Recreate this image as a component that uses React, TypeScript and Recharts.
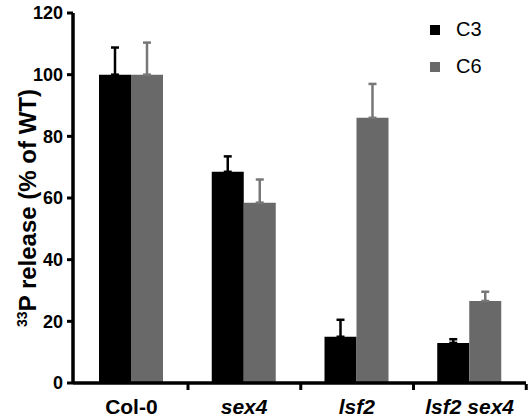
import React from 'react';
import { BarChart, Bar, XAxis, YAxis, ErrorBar, Legend } from 'recharts';

const categories = ['Col-0', 'sex4', 'lsf2', 'lsf2 sex4'];
const italicCategories = [false, true, true, true];
const c3Values = [100, 68.5, 15, 13];
const c3Errors = [8.8, 5, 5.5, 1.2];
const c6Values = [100, 58.5, 86, 26.6];
const c6Errors = [10.4, 7.5, 11, 3];
const yTicks = [0, 20, 40, 60, 80, 100, 120];

const C3_COLOR = '#000000';
const C6_COLOR = '#696969';

const data = categories.map((name, i) => ({
  name,
  italic: italicCategories[i],
  c3: c3Values[i],
  c3Err: [0, c3Errors[i]],
  c6: c6Values[i],
  c6Err: [0, c6Errors[i]],
}));

const FONT = 'Arial, "Liberation Sans", sans-serif';

function XTick(props: any) {
  const { payload, index, width } = props;
  const x = Number(props.x);
  const y = Number(props.y);
  const italic = data[index] ? data[index].italic : false;
  const w = Number(width);
  const half = (w > 0 && w < 1000 ? w : 451) / categories.length / 2;
  const lx = x + half;
  return (
    <g>
      <rect x={lx - 1.5} y={y - 7} width={3} height={6} fill="#000" />
      <text
        x={x}
        y={y + 23}
        textAnchor="middle"
        fontFamily={FONT}
        fontWeight="bold"
        fontStyle={italic ? 'italic' : 'normal'}
        fontSize={21}
        fill="#000"
      >
        {payload.value}
      </text>
    </g>
  );
}

const YLabel = () => (
  <text
    x={36}
    y={208}
    transform="rotate(-90 36 208)"
    textAnchor="middle"
    fontFamily={FONT}
    fontWeight="bold"
    fontSize={24}
    fill="#000"
  >
    <tspan fontSize={14} dy={-9}>33</tspan>
    <tspan dy={9}>P release (% of WT)</tspan>
  </text>
);

const LegendContent = (props: any) => {
  const { payload } = props;
  return (
    <div style={{ fontFamily: FONT }}>
      {(payload || []).map((p: any, i: number) => (
        <div key={i} style={{ display: 'flex', alignItems: 'center', height: 37 }}>
          <div style={{ width: 10, height: 10, background: p.color, marginRight: 16 }} />
          <span style={{ fontSize: 20, color: '#000' }}>{p.value}</span>
        </div>
      ))}
    </div>
  );
};

export default function App() {
  return (
    <div style={{ position: 'absolute', left: 0, top: 0, background: '#fff' }}>
      <BarChart
        width={531}
        height={418}
        data={data}
        margin={{ top: 13, right: 5, left: 0, bottom: 0 }}
        barGap={0}
        barCategoryGap="22%"
      >
        <XAxis
          dataKey="name"
          height={35}
          padding={{ left: 2, right: 0 }}
          axisLine={{ stroke: '#000', strokeWidth: 3.5 }}
          tickLine={false}
          tickSize={6}
          tickMargin={2}
          tick={(p: any) => <XTick {...p} />}
          interval={0}
        />
        <YAxis
          width={73}
          domain={[0, 120]}
          ticks={yTicks}
          interval={0}
          axisLine={{ stroke: '#000', strokeWidth: 3.5 }}
          tickLine={{ stroke: '#000', strokeWidth: 3 }}
          tickSize={6}
          tickMargin={4}
          tick={{ fontFamily: FONT, fontWeight: 'bold', fontSize: 18, fill: '#000' }}
          label={<YLabel />}
        />
        <Legend
          layout="horizontal"
          verticalAlign="middle"
          align="center"
          content={<LegendContent />}
          wrapperStyle={{ position: 'absolute', left: 430, top: 11, width: 80 }}
        />
        <Bar dataKey="c3" name="C3" fill={C3_COLOR} barSize={32} isAnimationActive={false}>
          <ErrorBar dataKey="c3Err" direction="y" width={4} stroke={C3_COLOR} strokeWidth={2.5} />
        </Bar>
        <Bar dataKey="c6" name="C6" fill={C6_COLOR} barSize={32} isAnimationActive={false}>
          <ErrorBar dataKey="c6Err" direction="y" width={4} stroke="#777" strokeWidth={2.5} />
        </Bar>
      </BarChart>
    </div>
  );
}
